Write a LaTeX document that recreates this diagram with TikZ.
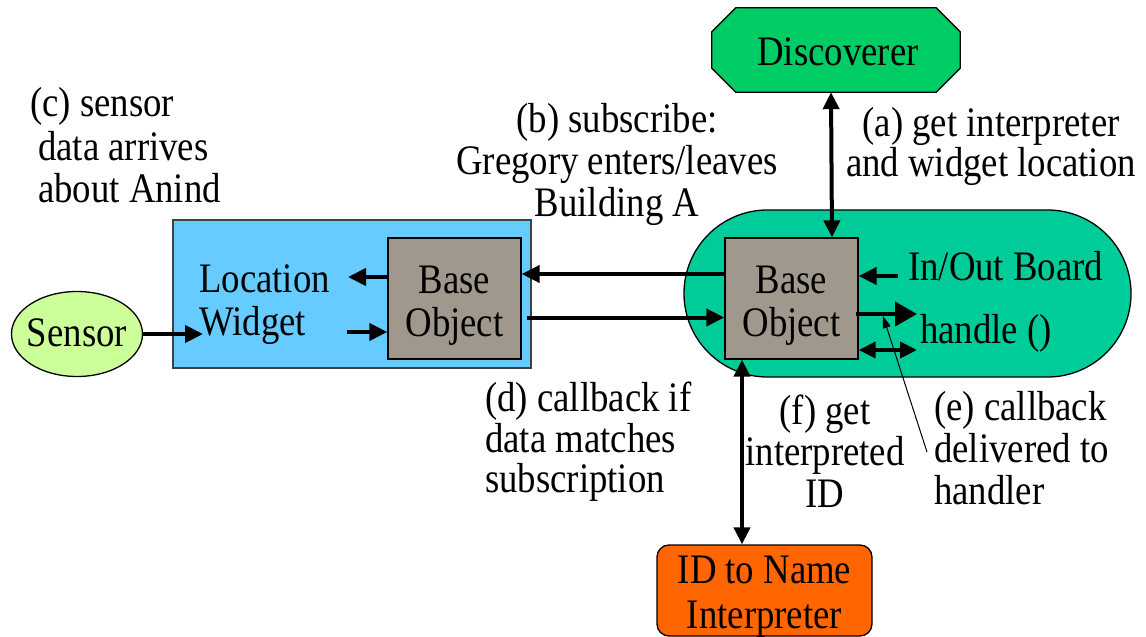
\documentclass[tikz,border=0pt]{standalone}
\usepackage{fontspec}
\setmainfont{Liberation Serif}[FakeStretch=0.875]
\usetikzlibrary{shapes.misc,shapes.geometric,arrows.meta,calc}
\newcommand{\ml}[2]{\begin{tabular}[t]{@{}#1@{}}#2\end{tabular}}
\definecolor{discgreen}{HTML}{00CC66}
\definecolor{boardgreen}{HTML}{00CC99}
\definecolor{widgblue}{HTML}{66CCFF}
\definecolor{sensgreen}{HTML}{CCFF99}
\definecolor{idorange}{HTML}{FF6600}
\definecolor{basegrey}{HTML}{A0988C}
\begin{document}
\begin{tikzpicture}[x=1pt,y=-1pt,
  txt/.style={inner sep=0pt,font=\fontsize{42}{42}\selectfont},
  shapeline/.style={draw=black,line width=1.3pt},
  fat/.style={line width=4pt,-{Triangle[length=18pt,width=17pt]}},
  fatboth/.style={line width=4pt,{Triangle[length=17pt,width=16pt]}-{Triangle[length=17pt,width=16pt]}},
  thinarrow/.style={line width=1pt,-{Triangle[length=12pt,width=8pt]}}
]
\useasboundingbox (0,0) rectangle (1146,637);

% Discoverer (octagon)
\node[txt,minimum width=248pt,minimum height=84pt] (disc) at (836,50) {};
\path[shapeline,fill=discgreen]
  ($(disc.north west)+(24,0)$) -- ($(disc.north east)+(-24,0)$) -- ($(disc.north east)+(0,24)$)
  -- ($(disc.south east)+(0,-24)$) -- ($(disc.south east)+(-24,0)$) -- ($(disc.south west)+(24,0)$)
  -- ($(disc.south west)+(0,-24)$) -- ($(disc.north west)+(0,24)$) -- cycle;
\node[txt,anchor=base] (disct) at (838,65) {Discoverer};

% In/Out Board pill
\node[shapeline,fill=boardgreen,rounded rectangle,minimum width=447pt,minimum height=167pt,inner sep=0pt] (board) at (907.5,293.5) {};
\node[txt,anchor=base west] (iob) at (908,280) {In/Out Board};
\node[txt,anchor=base west] (hdl) at (920,343) {handle ()};

% Location widget
\node[draw=black!75,line width=1.3pt,fill=widgblue,minimum width=358pt,minimum height=148pt,inner sep=0pt] (widget) at (352,294) {};
\node[txt,anchor=base west] (widgt) at (199,292) {\ml{l}{Location\\[1pt]Widget}};

% Base objects
\node[shapeline,fill=basegrey,minimum width=133pt,minimum height=121pt,inner sep=0pt] (bo1) at (454.5,298.5) {};
\node[txt,anchor=base] (bo1t) at (454.5,293) {\ml{c}{Base\\[1pt]Object}};
\node[shapeline,fill=basegrey,minimum width=133pt,minimum height=121pt,inner sep=0pt] (bo2) at (791.5,298.5) {};
\node[txt,anchor=base] (bo2t) at (791.5,293) {\ml{c}{Base\\[1pt]Object}};

% Sensor
\node[shapeline,fill=sensgreen,ellipse,minimum width=131pt,minimum height=85pt,inner sep=0pt] (sensor) at (77,334) {};
\node[txt,anchor=base] (senst) at (77,346) {Sensor};

% ID to Name Interpreter
\node[shapeline,fill=idorange,rounded corners=12pt,minimum width=215pt,minimum height=91pt,inner sep=0pt] (idn) at (764.5,590.5) {};
\node[txt,anchor=base] (idnt) at (764.5,583) {\ml{c}{ID to Name\\[3pt]Interpreter}};

% Labels
\node[txt,anchor=base west] (lc) at (30,116) {\ml{l}{(c) sensor\\[2pt]\hspace{8pt}data arrives\\\hspace{8pt}about Anind}};
\node[txt,anchor=base] (lb) at (617,132) {\ml{c}{(b) subscribe:\\Gregory enters/leaves\\Building A}};
\node[txt,anchor=base] (la) at (991,136) {\ml{c}{(a) get interpreter\\[-2pt]and widget location}};
\node[txt,anchor=base west] (ld) at (485,411) {\ml{l}{(d) callback if\\[-1pt]data matches\\[-2pt]subscription}};
\node[txt,anchor=base] (lf) at (825,424) {\ml{c}{(f) get\\[-1pt]interpreted\\ID}};
\node[txt,anchor=base west] (le) at (934,420) {\ml{l}{(e) callback\\delivered to\\handler}};

% free ends
\coordinate (wIn) at (203,334);
\coordinate (locOut) at (348,277);
\coordinate (widgIn) at (347,332);
\coordinate (ioOut) at (898,276);
\coordinate (hIn) at (917,314);
\coordinate (hBoth) at (917,350);
\coordinate (eTail) at (927,452);
\coordinate (eTip) at (883,316);

% Connectors
\draw[fat] (sensor.east) -- (wIn);
\draw[fat] (locOut -| bo1.west) -- (locOut);
\draw[fat] (widgIn) -- (widgIn -| bo1.west);
\draw[fat] ([yshift=24.5pt]bo2.west) -- ([yshift=24.5pt]bo1.east);
\draw[fat] ([yshift=-19pt,xshift=5pt]bo1.east) -- ([yshift=-19pt]bo2.west);
\draw[fatboth] ([xshift=-5pt]disc.south) -- ([xshift=40.5pt]bo2.north);
\draw[fat] (ioOut) -- (ioOut -| bo2.east);
\draw[line width=4pt,-{Triangle[length=22pt,width=24pt]}] ([xshift=-3pt]hIn -| bo2.east) -- (hIn);
\draw[fatboth] (hBoth -| bo2.east) -- (hBoth);
\draw[fatboth] ([xshift=-49.5pt]bo2.south) -- ([xshift=-22.5pt]idn.north);
\draw[thinarrow] (eTail) -- (eTip);
\end{tikzpicture}
\end{document}
